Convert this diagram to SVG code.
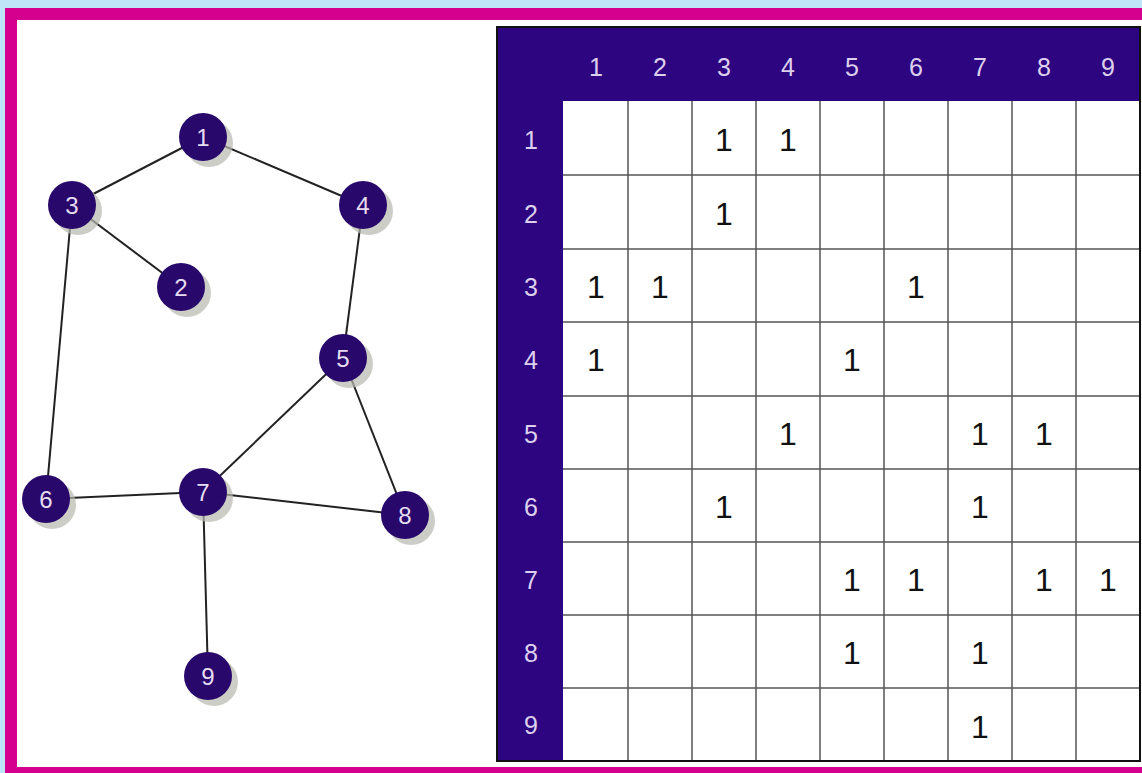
<svg xmlns="http://www.w3.org/2000/svg" width="1142" height="773" viewBox="0 0 1142 773">
<style>
.node circle.n{fill:#28086a}
.node circle.s{fill:#b8b8b0;opacity:.7}
.node text{font-family:"Liberation Sans",Arial,sans-serif;font-size:24px;fill:#e6dcf2;text-anchor:middle;dominant-baseline:central}
.edges line{stroke:#222;stroke-width:2}
.hdr{font-family:"Liberation Sans",Arial,sans-serif;font-size:25px;fill:#ddd0ee;text-anchor:middle;dominant-baseline:central}
.val{font-family:"Liberation Sans",Arial,sans-serif;font-size:32px;fill:#111;text-anchor:middle;dominant-baseline:central}
.grid line{stroke:#555;stroke-width:1.5}
</style>
<rect x="0" y="0" width="1142" height="773" fill="#bfe6f8"/>
<rect x="11" y="14" width="1140" height="759" fill="#ffffff" stroke="#d6008e" stroke-width="12"/>
<g class="edges">
<line x1="203" y1="137" x2="72" y2="205"/>
<line x1="203" y1="137" x2="363" y2="205"/>
<line x1="72" y1="205" x2="181" y2="287"/>
<line x1="72" y1="205" x2="46" y2="499"/>
<line x1="363" y1="205" x2="343" y2="358"/>
<line x1="343" y1="358" x2="203" y2="492"/>
<line x1="343" y1="358" x2="405" y2="515"/>
<line x1="46" y1="499" x2="203" y2="492"/>
<line x1="203" y1="492" x2="405" y2="515"/>
<line x1="203" y1="492" x2="208" y2="676"/>
</g>
<g id="node1" class="node"><circle class="s" cx="209" cy="143" r="24"/><circle class="n" cx="203" cy="137" r="24"/><text x="203" y="137">1</text></g>
<g id="node2" class="node"><circle class="s" cx="187" cy="293" r="24"/><circle class="n" cx="181" cy="287" r="24"/><text x="181" y="287">2</text></g>
<g id="node3" class="node"><circle class="s" cx="78" cy="211" r="24"/><circle class="n" cx="72" cy="205" r="24"/><text x="72" y="205">3</text></g>
<g id="node4" class="node"><circle class="s" cx="369" cy="211" r="24"/><circle class="n" cx="363" cy="205" r="24"/><text x="363" y="205">4</text></g>
<g id="node5" class="node"><circle class="s" cx="349" cy="364" r="24"/><circle class="n" cx="343" cy="358" r="24"/><text x="343" y="358">5</text></g>
<g id="node6" class="node"><circle class="s" cx="52" cy="505" r="24"/><circle class="n" cx="46" cy="499" r="24"/><text x="46" y="499">6</text></g>
<g id="node7" class="node"><circle class="s" cx="209" cy="498" r="24"/><circle class="n" cx="203" cy="492" r="24"/><text x="203" y="492">7</text></g>
<g id="node8" class="node"><circle class="s" cx="411" cy="521" r="24"/><circle class="n" cx="405" cy="515" r="24"/><text x="405" y="515">8</text></g>
<g id="node9" class="node"><circle class="s" cx="214" cy="682" r="24"/><circle class="n" cx="208" cy="676" r="24"/><text x="208" y="676">9</text></g>
<g id="table">
<rect x="497" y="27" width="643" height="734" fill="#2d0580" stroke="#111" stroke-width="2"/>
<rect x="563" y="101" width="576" height="659" fill="#ffffff"/>
<g class="grid">
<line x1="628" y1="101" x2="628" y2="760"/><line x1="692" y1="101" x2="692" y2="760"/><line x1="756" y1="101" x2="756" y2="760"/><line x1="820" y1="101" x2="820" y2="760"/><line x1="884" y1="101" x2="884" y2="760"/><line x1="948" y1="101" x2="948" y2="760"/><line x1="1012" y1="101" x2="1012" y2="760"/><line x1="1076" y1="101" x2="1076" y2="760"/>
<line x1="563" y1="175" x2="1139" y2="175"/><line x1="563" y1="249" x2="1139" y2="249"/><line x1="563" y1="322" x2="1139" y2="322"/><line x1="563" y1="396" x2="1139" y2="396"/><line x1="563" y1="469" x2="1139" y2="469"/><line x1="563" y1="542" x2="1139" y2="542"/><line x1="563" y1="615" x2="1139" y2="615"/><line x1="563" y1="688" x2="1139" y2="688"/>
</g>
<g class="hdr">
<text x="596" y="67">1</text><text x="660" y="67">2</text><text x="724" y="67">3</text><text x="788" y="67">4</text><text x="852" y="67">5</text><text x="916" y="67">6</text><text x="980" y="67">7</text><text x="1044" y="67">8</text><text x="1108" y="67">9</text>
<text x="531" y="140">1</text><text x="531" y="214">2</text><text x="531" y="287">3</text><text x="531" y="360">4</text><text x="531" y="434">5</text><text x="531" y="507">6</text><text x="531" y="580">7</text><text x="531" y="653">8</text><text x="531" y="725">9</text>
</g>
<g class="val">
<text x="724" y="140">1</text><text x="788" y="140">1</text>
<text x="724" y="214">1</text>
<text x="596" y="287">1</text><text x="660" y="287">1</text><text x="916" y="287">1</text>
<text x="596" y="360">1</text><text x="852" y="360">1</text>
<text x="788" y="434">1</text><text x="980" y="434">1</text><text x="1044" y="434">1</text>
<text x="724" y="507">1</text><text x="980" y="507">1</text>
<text x="852" y="580">1</text><text x="916" y="580">1</text><text x="1044" y="580">1</text><text x="1108" y="580">1</text>
<text x="852" y="653">1</text><text x="980" y="653">1</text>
<text x="980" y="727">1</text>
</g>
</g>
</svg>
